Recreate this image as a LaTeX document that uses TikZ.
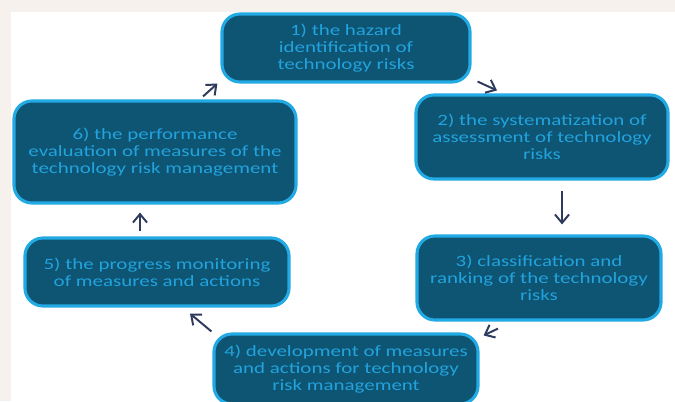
\documentclass[tikz,border=0pt]{standalone}
\usepackage{fontspec}
\newfontfamily\boxfont[FakeStretch=1.33]{Carlito}
\usetikzlibrary{arrows.meta}
\usetikzlibrary{positioning}

\definecolor{boxfill}{HTML}{0E5473}
\definecolor{boxline}{HTML}{22AAE4}
\definecolor{boxtext}{HTML}{22A3DD}
\definecolor{arrowcol}{HTML}{2F3B5E}
\definecolor{paper}{HTML}{F6F1EC}

\begin{document}
\begin{tikzpicture}[x=0.025cm, y=-0.025cm,
			stepbox/.style={rectangle, rounded corners=4.5mm, draw=boxline, fill=boxfill, line width=2.2pt, text=boxtext, align=center, font=\boxfont\fontsize{11.2}{12}\selectfont},
			flow/.style={-{Straight Barb[length=6pt,width=10pt,line width=1.4pt]}, line width=1.4pt, draw=arrowcol},
			]
			\useasboundingbox (0,0) rectangle (675,401);
			\fill[paper] (0,0) rectangle (675,401);
			\fill[white] (11,12) rectangle (675,401);
			
			%Nodes
			\node[stepbox, minimum width=6.2cm, minimum height=1.7cm] (HazardId) at (346,48) {1) the hazard\\ identification of\\ technology risks};
			\node[stepbox, minimum width=6.3cm, minimum height=2.1cm] (Systematization) at (542,137) {2) the systematization of\\ assessment of technology\\ risks};
			\node[stepbox, minimum width=6.1cm, minimum height=2.1cm] (Ranking) at (539,278) {3) classification and\\ ranking of the technology\\ risks};
			\node[stepbox, minimum width=6.6cm, minimum height=1.75cm] (Development) at (346,369) {4) development of measures\\ and actions for technology\\ risk management};
			\node[stepbox, minimum width=6.6cm, minimum height=1.7cm] (Monitoring) at (157,272) {5) the progress monitoring\\ of measures and actions};
			\node[stepbox, minimum width=7.05cm, minimum height=2.55cm] (Evaluation) at (155,152) {6) the performance\\ evaluation of measures of the\\ technology risk management};
			
			%Lines
			\draw[flow] ([shift={(6,-2)}]HazardId.south east) -- ([shift={(-45,-3)}]Systematization.north);
			\draw[flow] ([shift={(20,10)}]Systematization.south) -- ([shift={(23,-10)}]Ranking.north);
			\draw[flow] ([shift={(-41,7)}]Ranking.south) -- ([shift={(4,3)}]Development.north east);
			\draw[flow] ([shift={(-1,-1)}]Development.north west) -- ([shift={(33,6)}]Monitoring.south);
			\draw[flow] ([shift={(-17,-5)}]Monitoring.north) -- ([shift={(-15,8)}]Evaluation.south);
			\draw[flow] ([shift={(48,-3)}]Evaluation.north) -- ([shift={(-3,0)}]HazardId.south west);
		\end{tikzpicture}
\end{document}
